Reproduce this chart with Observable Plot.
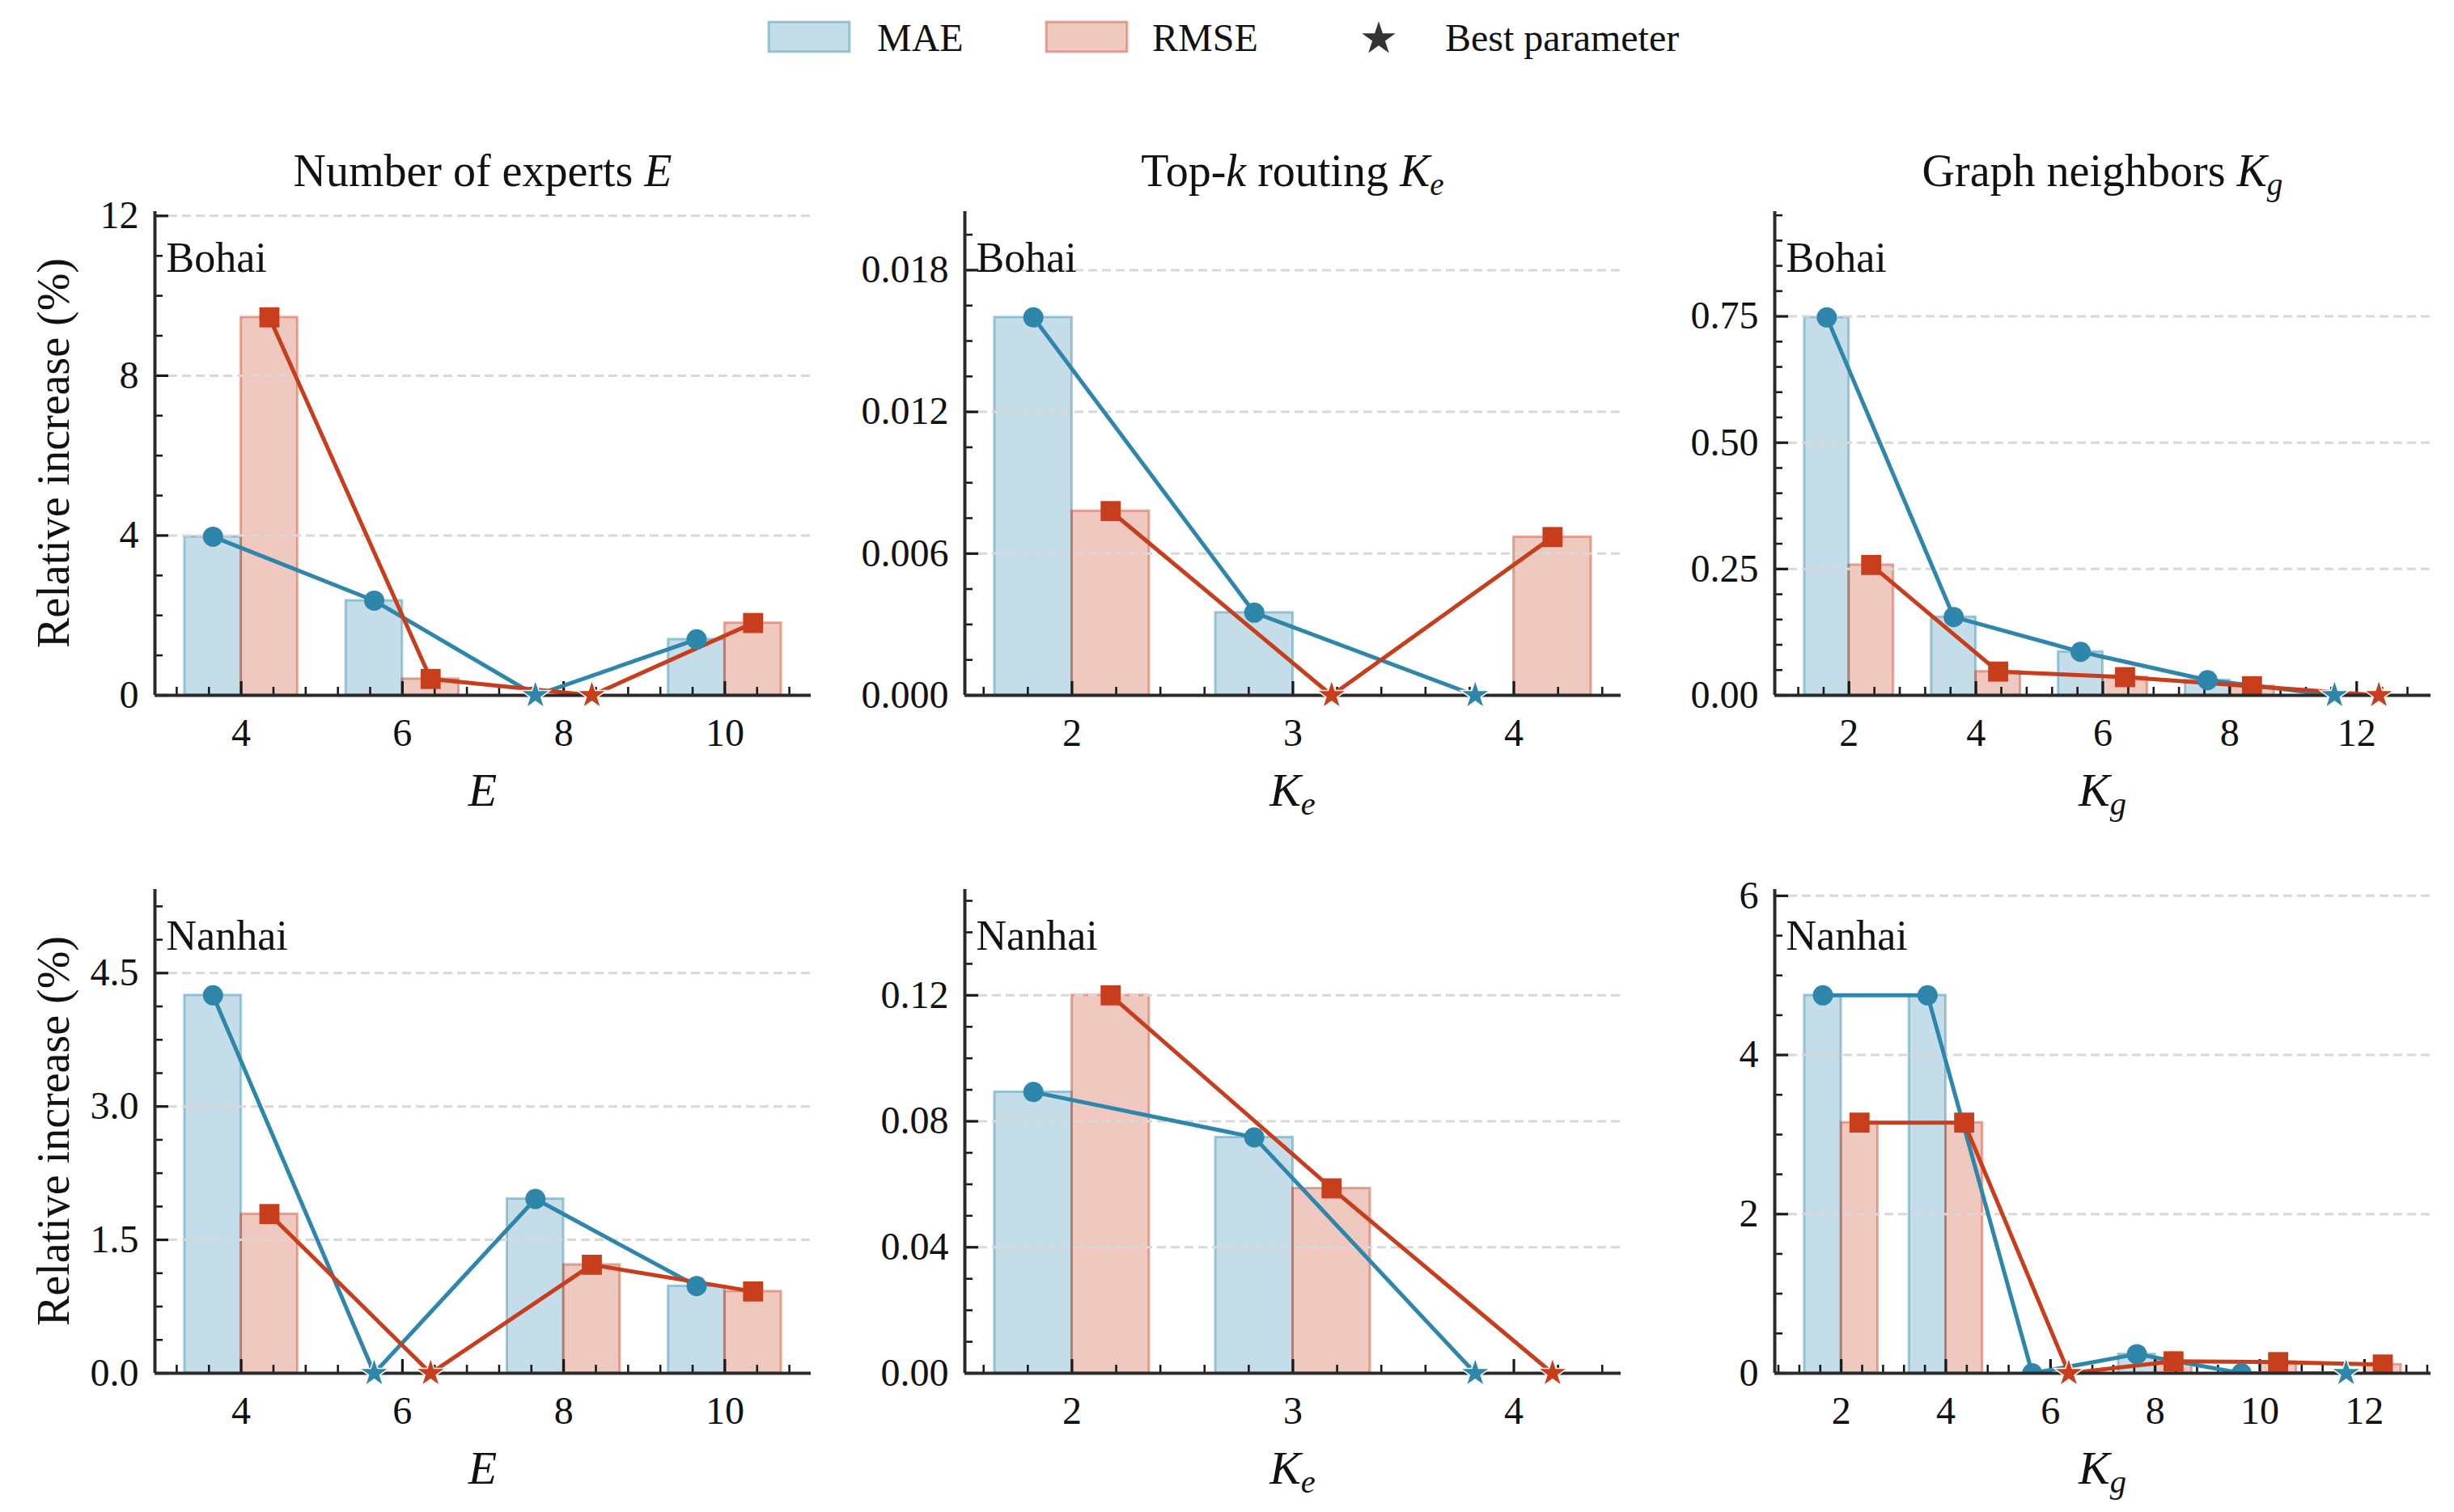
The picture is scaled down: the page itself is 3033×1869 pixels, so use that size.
<!DOCTYPE html>
<html>
<head>
<meta charset="utf-8">
<script src="https://cdn.jsdelivr.net/npm/d3@7"></script>
<script src="https://cdn.jsdelivr.net/npm/@observablehq/plot@0.6"></script>
<style>
  html, body { margin: 0; padding: 0; background: #ffffff; }
  #fig { position: relative; width: 3033px; height: 1869px; font-family: "Liberation Serif", "Times New Roman", serif; color: #111; overflow: hidden; }
  .abs { position: absolute; white-space: nowrap; }
  .title { font-size: 56px; transform: translate(-50%, -50%); }
  .xlab { font-size: 58px; font-style: italic; transform: translate(-50%, -50%); }
  .ylab { font-size: 56px; transform: translate(-50%, -50%) rotate(-90deg); }
  .sub { font-size: 0.7em; position: relative; top: 0.28em; font-style: italic; }
  .leg { font-size: 48px; transform: translateY(-50%); }
  svg { overflow: visible; max-width: none !important; }
</style>
</head>
<body>
<div id="fig"></div>
<script>
// ---------------- data ----------------
const E_cats = ["4", "6", "8", "10"];
const Ke_cats = ["2", "3", "4"];
const Kg_bohai_cats = ["2", "4", "6", "8", "12"];
const Kg_nanhai_cats = ["2", "4", "6", "8", "10", "12"];

const bohai_E_mae = [3.97, 2.37, 0, 1.40];
const bohai_E_rmse = [9.46, 0.41, 0, 1.81];
const bohai_Ke_mae = [0.0160, 0.0035, 0];
const bohai_Ke_rmse = [0.0078, 0, 0.0067];
const bohai_Kg_mae = [0.748, 0.155, 0.086, 0.030, 0];
const bohai_Kg_rmse = [0.258, 0.047, 0.036, 0.018, 0];

const nanhai_E_mae = [4.25, 0, 1.96, 0.98];
const nanhai_E_rmse = [1.79, 0, 1.22, 0.92];
const nanhai_Ke_mae = [0.0893, 0.0749, 0];
const nanhai_Ke_rmse = [0.120, 0.0587, 0];
const nanhai_Kg_mae = [4.75, 4.75, 0.0, 0.24, 0.0, 0];
const nanhai_Kg_rmse = [3.15, 3.15, 0, 0.15, 0.14, 0.11];

// index of best parameter: [MAE, RMSE]
const bohai_E_best = [2, 2];
const bohai_Ke_best = [2, 1];
const bohai_Kg_best = [4, 4];
const nanhai_E_best = [1, 1];
const nanhai_Ke_best = [2, 2];
const nanhai_Kg_best = [5, 2];

// y-axis major ticks
const bohai_E_ticks = [0, 4, 8, 12];
const bohai_Ke_ticks = [0, 0.006, 0.012, 0.018];
const bohai_Kg_ticks = [0, 0.25, 0.5, 0.75];
const nanhai_E_ticks = [0, 1.5, 3.0, 4.5];
const nanhai_Ke_ticks = [0, 0.04, 0.08, 0.12];
const nanhai_Kg_ticks = [0, 2, 4, 6];

const panelTitles = ['Number of experts <i>E</i>', 'Top-<i>k</i> routing <i>K</i><span class="sub">e</span>', 'Graph neighbors <i>K</i><span class="sub">g</span>'];
const xLabels = ['E', 'K<span class="sub">e</span>', 'K<span class="sub">g</span>'];
const yLabel = "Relative increase (%)";
const legendLabels = ["MAE", "RMSE", "Best parameter"];

// ---------------- style / layout ----------------
const MAE_COLOR = "#2E86AB";
const RMSE_COLOR = "#C73E1D";
const BAR_W = 0.35;
const COL_LEFT = [191, 1192, 2193];
const ROW_TOP = [261, 1099];
const PW = 811, PH = 598;
const ML = 170, MR = 20, MT = 30, MB = 90;
const SPINE = "#2a2a2a";
const FONT = '"Liberation Serif", "Times New Roman", serif';

const fig = document.getElementById("fig");

function makePanel(cfg) {
  const {cats, mae, rmse, best, ticks, minorStep, decimals, region} = cfg;
  const n = cats.length;
  const span = (n - 1) + 2 * BAR_W;
  const xDomain = [-BAR_W - 0.05 * span, n - 1 + BAR_W + 0.05 * span];
  const ymax = 1.28 * d3.max(mae.concat(rmse));
  const maeRows = mae.map((v, i) => ({i, x1: i - BAR_W, x2: i, xc: i - BAR_W / 2, y0: 0, v, best: i === best[0]}));
  const rmseRows = rmse.map((v, i) => ({i, x1: i, x2: i + BAR_W, xc: i + BAR_W / 2, y0: 0, v, best: i === best[1]}));
  const xMajor = d3.range(n);
  const xMinor = d3.range(Math.ceil(xDomain[0] / 0.2 - 1e-9), Math.floor(xDomain[1] / 0.2 + 1e-9) + 1)
    .map(k => k * 0.2)
    .filter(x => Math.abs(x - Math.round(x)) > 1e-6);
  const yMinor = d3.range(0, ymax, minorStep)
    .filter(v => !ticks.some(t => Math.abs(t - v) < minorStep * 1e-3));
  const fmt = d3.format(`.${decimals}f`);

  return Plot.plot({
    width: ML + PW + MR,
    height: MT + PH + MB,
    marginLeft: ML, marginRight: MR, marginTop: MT, marginBottom: MB,
    style: {fontFamily: FONT, fontSize: "48px", color: "#111", background: "transparent", overflow: "visible", maxWidth: "none"},
    x: {type: "linear", domain: xDomain, ticks: xMajor, tickFormat: i => cats[i], tickSize: 0, tickPadding: 28, label: null},
    y: {domain: [0, ymax], ticks: ticks, tickFormat: fmt, tickSize: 0, tickPadding: 20, label: null},
    marks: [
      Plot.rect(maeRows, {x1: "x1", x2: "x2", y1: "y0", y2: "v", fill: MAE_COLOR, fillOpacity: 0.28, stroke: MAE_COLOR, strokeOpacity: 0.42, strokeWidth: 3}),
      Plot.rect(rmseRows, {x1: "x1", x2: "x2", y1: "y0", y2: "v", fill: RMSE_COLOR, fillOpacity: 0.28, stroke: RMSE_COLOR, strokeOpacity: 0.42, strokeWidth: 3}),
      Plot.ruleY(ticks.filter(t => t > 0), {stroke: "#d8d8d8", strokeWidth: 3, strokeDasharray: "11,6"}),
      Plot.tickX(xMinor, {x: d => d, insetTop: PH - 10, stroke: "#1a1a1a", strokeWidth: 2.6}),
      Plot.tickX(xMajor, {x: d => d, insetTop: PH - 17, stroke: "#1a1a1a", strokeWidth: 3.2}),
      Plot.tickY(yMinor, {y: d => d, insetRight: PW - 10, stroke: "#1a1a1a", strokeWidth: 2.6}),
      Plot.tickY(ticks, {y: d => d, insetRight: PW - 17, stroke: "#1a1a1a", strokeWidth: 3.2}),
      Plot.line(maeRows, {x: "xc", y: "v", stroke: MAE_COLOR, strokeWidth: 5, clip: true}),
      Plot.line(rmseRows, {x: "xc", y: "v", stroke: RMSE_COLOR, strokeWidth: 5, clip: true}),
      Plot.dot(maeRows.filter(d => !d.best), {x: "xc", y: "v", r: 12.5, fill: MAE_COLOR, stroke: "none", clip: true}),
      Plot.dot(rmseRows.filter(d => !d.best), {x: "xc", y: "v", r: 14, symbol: "square", fill: RMSE_COLOR, stroke: "none", clip: true}),
      Plot.ruleX([xDomain[0]], {stroke: SPINE, strokeWidth: 4}),
      Plot.ruleY([0], {stroke: SPINE, strokeWidth: 4}),
      Plot.dot(maeRows.filter(d => d.best), {x: "xc", y: "v", r: 10, symbol: "star", fill: MAE_COLOR, stroke: "white", strokeWidth: 3, paintOrder: "stroke"}),
      Plot.dot(rmseRows.filter(d => d.best), {x: "xc", y: "v", r: 10, symbol: "star", fill: RMSE_COLOR, stroke: "white", strokeWidth: 3, paintOrder: "stroke"}),
      Plot.text([region], {frameAnchor: "top-left", dx: 14, dy: 58, textAnchor: "start", lineAnchor: "middle", fontSize: 52, fill: "#111"})
    ]
  });
}

const panels = [
  {row: 0, col: 0, cats: E_cats, mae: bohai_E_mae, rmse: bohai_E_rmse, best: bohai_E_best, ticks: bohai_E_ticks, minorStep: 1, decimals: 0, region: "Bohai"},
  {row: 0, col: 1, cats: Ke_cats, mae: bohai_Ke_mae, rmse: bohai_Ke_rmse, best: bohai_Ke_best, ticks: bohai_Ke_ticks, minorStep: 0.0015, decimals: 3, region: "Bohai"},
  {row: 0, col: 2, cats: Kg_bohai_cats, mae: bohai_Kg_mae, rmse: bohai_Kg_rmse, best: bohai_Kg_best, ticks: bohai_Kg_ticks, minorStep: 0.05, decimals: 2, region: "Bohai"},
  {row: 1, col: 0, cats: E_cats, mae: nanhai_E_mae, rmse: nanhai_E_rmse, best: nanhai_E_best, ticks: nanhai_E_ticks, minorStep: 0.375, decimals: 1, region: "Nanhai"},
  {row: 1, col: 1, cats: Ke_cats, mae: nanhai_Ke_mae, rmse: nanhai_Ke_rmse, best: nanhai_Ke_best, ticks: nanhai_Ke_ticks, minorStep: 0.01, decimals: 2, region: "Nanhai"},
  {row: 1, col: 2, cats: Kg_nanhai_cats, mae: nanhai_Kg_mae, rmse: nanhai_Kg_rmse, best: nanhai_Kg_best, ticks: nanhai_Kg_ticks, minorStep: 0.5, decimals: 0, region: "Nanhai"}
];

function addDiv(cls, html, left, top) {
  const d = document.createElement("div");
  d.className = "abs " + cls;
  d.innerHTML = html;
  d.style.left = left + "px";
  d.style.top = top + "px";
  fig.appendChild(d);
  return d;
}

for (const p of panels) {
  const svg = makePanel(p);
  const wrap = document.createElement("div");
  wrap.className = "abs";
  wrap.style.left = (COL_LEFT[p.col] - ML) + "px";
  wrap.style.top = (ROW_TOP[p.row] - MT) + "px";
  wrap.style.width = (ML + PW + MR) + "px";
  wrap.style.height = (MT + PH + MB) + "px";
  wrap.appendChild(svg);
  fig.appendChild(wrap);
  addDiv("xlab", xLabels[p.col], COL_LEFT[p.col] + PW / 2, ROW_TOP[p.row] + PH + 117);
}

// titles
panelTitles.forEach((t, c) => addDiv("title", t, COL_LEFT[c] + PW / 2, ROW_TOP[0] - 50));
// y labels
ROW_TOP.forEach(top => addDiv("ylab", yLabel, 66, top + PH / 2));

// legend
function swatch(color, left) {
  const s = d3.create("svg").attr("width", 110).attr("height", 50)
    .style("position", "absolute").style("left", (left - 5) + "px").style("top", "21px");
  s.append("rect").attr("x", 5).attr("y", 6).attr("width", 100).attr("height", 37)
    .attr("fill", color).attr("fill-opacity", 0.28).attr("stroke", color).attr("stroke-opacity", 0.42).attr("stroke-width", 3);
  fig.appendChild(s.node());
}
swatch(MAE_COLOR, 950);
swatch(RMSE_COLOR, 1293);
{
  const s = d3.create("svg").attr("width", 60).attr("height", 60)
    .style("position", "absolute").style("left", (1704 - 30) + "px").style("top", (46 - 30) + "px");
  s.append("path").attr("transform", "translate(30,32)")
    .attr("d", d3.symbol(d3.symbolStar, Math.PI * 13 * 13)()).attr("fill", "#333");
  fig.appendChild(s.node());
}
addDiv("leg", legendLabels[0], 1084, 46);
addDiv("leg", legendLabels[1], 1424, 46);
addDiv("leg", legendLabels[2], 1786, 46);
</script>
</body>
</html>
